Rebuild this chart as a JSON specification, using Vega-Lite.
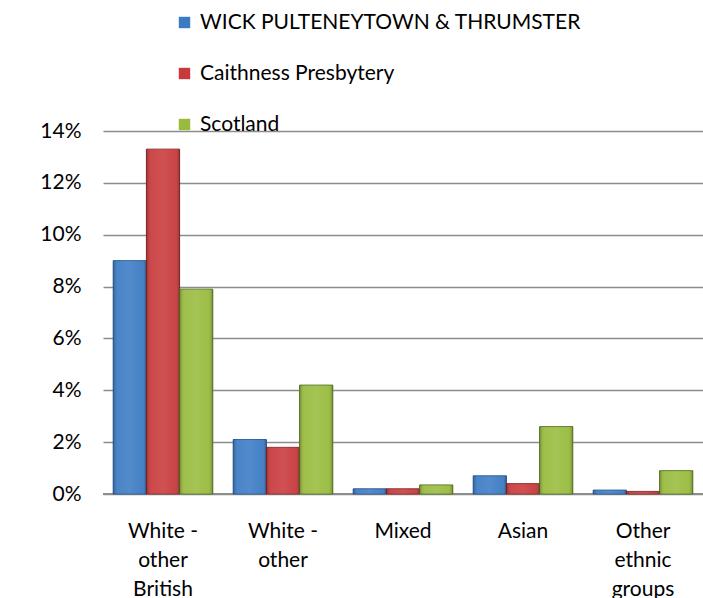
{
  "$schema": "https://vega.github.io/schema/vega-lite/v6.json",
  "width": 600,
  "height": 363,
  "autosize": "none",
  "padding": {"left": 103, "top": 131, "right": 0, "bottom": 104},
  "background": "white",
  "config": {
    "font": "Lato",
    "view": {"stroke": null},
    "axis": {"labelFont": "Lato", "labelColor": "#000000", "labelFontSize": 21}
  },
  "data": {
    "values": [
      {"category": "White - other British", "series": "WICK PULTENEYTOWN & THRUMSTER", "value": 0.090},
      {"category": "White - other British", "series": "Caithness Presbytery", "value": 0.133},
      {"category": "White - other British", "series": "Scotland", "value": 0.079},
      {"category": "White - other", "series": "WICK PULTENEYTOWN & THRUMSTER", "value": 0.021},
      {"category": "White - other", "series": "Caithness Presbytery", "value": 0.018},
      {"category": "White - other", "series": "Scotland", "value": 0.042},
      {"category": "Mixed", "series": "WICK PULTENEYTOWN & THRUMSTER", "value": 0.002},
      {"category": "Mixed", "series": "Caithness Presbytery", "value": 0.002},
      {"category": "Mixed", "series": "Scotland", "value": 0.0035},
      {"category": "Asian", "series": "WICK PULTENEYTOWN & THRUMSTER", "value": 0.007},
      {"category": "Asian", "series": "Caithness Presbytery", "value": 0.004},
      {"category": "Asian", "series": "Scotland", "value": 0.026},
      {"category": "Other ethnic groups", "series": "WICK PULTENEYTOWN & THRUMSTER", "value": 0.0015},
      {"category": "Other ethnic groups", "series": "Caithness Presbytery", "value": 0.001},
      {"category": "Other ethnic groups", "series": "Scotland", "value": 0.009}
    ]
  },
  "encoding": {
    "x": {
      "field": "category",
      "type": "nominal",
      "sort": ["White - other British", "White - other", "Mixed", "Asian", "Other ethnic groups"],
      "scale": {"paddingInner": 0.17, "paddingOuter": 0.085},
      "axis": {
        "title": null,
        "labelAngle": 0,
        "ticks": false,
        "domain": false,
        "labelPadding": 26,
        "labelLineHeight": 29,
        "labelExpr": "datum.value == 'White - other British' ? ['White -', 'other', 'British'] : datum.value == 'White - other' ? ['White -', 'other'] : datum.value == 'Other ethnic groups' ? ['Other', 'ethnic', 'groups'] : datum.value"
      }
    },
    "xOffset": {
      "field": "series",
      "type": "nominal",
      "sort": ["WICK PULTENEYTOWN & THRUMSTER", "Caithness Presbytery", "Scotland"]
    },
    "y": {
      "field": "value",
      "type": "quantitative",
      "scale": {"domain": [0, 0.14], "nice": false},
      "axis": {
        "title": null,
        "format": ".0%",
        "values": [0, 0.02, 0.04, 0.06, 0.08, 0.1, 0.12, 0.14],
        "ticks": false,
        "domain": false,
        "labelPadding": 22,
        "gridColor": "#8c8c8c",
        "gridWidth": 1.5
      }
    }
  },
  "layer": [
    {
      "mark": {"type": "rule", "color": "#8c8c8c", "strokeWidth": 2},
      "encoding": {"y": {"datum": 0}, "x": null, "xOffset": null}
    },
    {
      "mark": {"type": "bar", "strokeWidth": 1},
      "encoding": {
        "color": {
          "field": "series",
          "type": "nominal",
          "sort": ["WICK PULTENEYTOWN & THRUMSTER", "Caithness Presbytery", "Scotland"],
          "scale": {"range": ["#3b7bc4", "#c8393b", "#98bb3d"]},
          "legend": {
            "title": null,
            "orient": "none",
            "legendX": 71,
            "legendY": -119,
            "direction": "vertical",
            "symbolType": "square",
            "symbolSize": 130,
            "symbolStrokeWidth": 0,
            "labelFontSize": 21,
            "labelFont": "Lato",
            "labelColor": "#000000",
            "labelLimit": 0,
            "labelOffset": 5,
            "rowPadding": 29,
            "padding": 0
          }
        },
        "stroke": {
          "field": "series",
          "type": "nominal",
          "sort": ["WICK PULTENEYTOWN & THRUMSTER", "Caithness Presbytery", "Scotland"],
          "scale": {"range": ["#2a5a96", "#8f2a2b", "#5f7a25"]},
          "legend": null
        }
      }
    },
    {
      "mark": {
        "type": "bar",
        "fill": {
          "gradient": "linear",
          "x1": 0, "y1": 0, "x2": 1, "y2": 0,
          "stops": [
            {"offset": 0, "color": "rgba(0,0,0,0.22)"},
            {"offset": 0.15, "color": "rgba(255,255,255,0.08)"},
            {"offset": 0.5, "color": "rgba(255,255,255,0.12)"},
            {"offset": 0.85, "color": "rgba(255,255,255,0.05)"},
            {"offset": 1, "color": "rgba(0,0,0,0.25)"}
          ]
        }
      }
    }
  ]
}
